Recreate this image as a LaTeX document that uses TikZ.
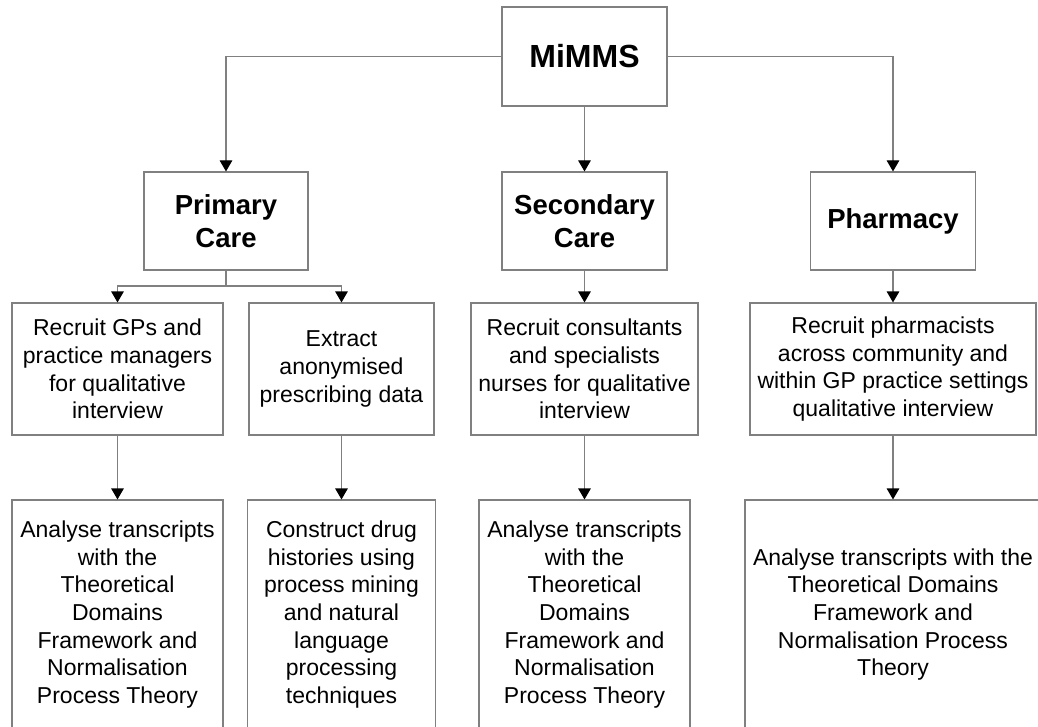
\documentclass[tikz,border=0pt]{standalone}
\usepackage{fontspec}
\setmainfont{Liberation Sans}
\usetikzlibrary{arrows.meta}
\definecolor{linegray}{HTML}{808080}
\begin{document}
\begin{tikzpicture}[x=1pt,y=-1pt,
  box/.style={draw=linegray,line width=1.1pt,rectangle,inner sep=0pt,align=center,text=black},
  body/.style={box,font=\fontsize{23}{27.6}\selectfont},
  head/.style={box,font=\fontsize{27.5}{33}\selectfont\bfseries},
  conn/.style={draw=linegray,line width=1.1pt},
  arr/.style={conn,-{Triangle[length=11pt,width=12.5pt,color=black]}}
]
\useasboundingbox (0,0) rectangle (1038,727);
\node[box,font=\fontsize{32}{38}\selectfont\bfseries,minimum width=165pt,minimum height=99pt] (mimms) at (584.5,56.5) {MiMMS};
\node[head,minimum width=164pt,minimum height=98pt] (primary) at (226,221) {Primary\\Care};
\node[head,minimum width=165pt,minimum height=98pt] (secondary) at (584.5,221) {Secondary\\Care};
\node[head,minimum width=165pt,minimum height=98pt] (pharmacy) at (893,221) {Pharmacy};
\node[body,minimum width=211pt,minimum height=132pt] (rgp) at (117.5,369) {Recruit GPs and\\practice managers\\for qualitative\\interview};
\node[body,minimum width=185pt,minimum height=132pt] (extract) at (341.5,369) {Extract\\anonymised\\prescribing data};
\node[body,minimum width=227pt,minimum height=132pt] (rcons) at (584.5,369) {Recruit consultants\\and specialists\\nurses for qualitative\\interview};
\node[body,minimum width=286pt,minimum height=132pt] (rpharm) at (893,369) {Recruit pharmacists\\across community and\\within GP practice settings\\qualitative interview};
\node[body,minimum width=211pt,minimum height=229pt] (a1) at (117.5,614.5) {Analyse transcripts\\with the\\Theoretical\\Domains\\Framework and\\Normalisation\\Process Theory};
\node[body,minimum width=188pt,minimum height=229pt] (construct) at (341.5,614.5) {Construct drug\\histories using\\process mining\\and natural\\language\\processing\\techniques};
\node[body,minimum width=211pt,minimum height=229pt] (a2) at (584.5,614.5) {Analyse transcripts\\with the\\Theoretical\\Domains\\Framework and\\Normalisation\\Process Theory};
\node[body,minimum width=296pt,minimum height=229pt] (a3) at (893,614.5) {Analyse transcripts with the\\Theoretical Domains\\Framework and\\Normalisation Process\\Theory};
\coordinate (pcb) at (226,286);
\draw[arr] (mimms.west) -| (primary.north);
\draw[arr] (mimms.south) -- (secondary.north);
\draw[arr] (mimms.east) -| (pharmacy.north);
\draw[conn] (primary.south) -- (pcb);
\draw[arr] (pcb) -| (rgp.north);
\draw[arr] (pcb) -| (extract.north);
\draw[arr] (secondary.south) -- (rcons.north);
\draw[arr] (pharmacy.south) -- (rpharm.north);
\draw[arr] (rgp.south) -- (a1.north);
\draw[arr] (extract.south) -- (construct.north);
\draw[arr] (rcons.south) -- (a2.north);
\draw[arr] (rpharm.south) -- (a3.north);
\end{tikzpicture}
\end{document}
